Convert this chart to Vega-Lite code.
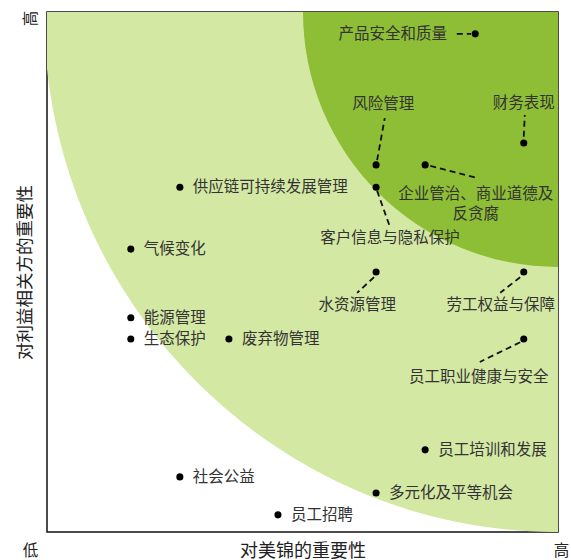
{
  "$schema": "https://vega.github.io/schema/vega-lite/v6.json",
  "width": 511,
  "height": 520,
  "autosize": {"type": "none"},
  "padding": {"left": 47, "top": 12, "right": 13, "bottom": 28},
  "background": "white",
  "config": {
    "view": {"stroke": "#111", "strokeWidth": 1.5},
    "font": "Noto Sans CJK SC",
    "text": {"font": "Noto Sans CJK SC"}
  },
  "datasets": {
    "zone": [{"x": 10, "y": 10}],
    "points": [
      {"name": "产品安全和质量", "x": 8.38, "y": 9.58},
      {"name": "财务表现", "x": 9.33, "y": 7.48},
      {"name": "风险管理", "x": 6.44, "y": 7.06},
      {"name": "企业管治、商业道德及反贪腐", "x": 7.40, "y": 7.06},
      {"name": "供应链可持续发展管理", "x": 2.60, "y": 6.63},
      {"name": "客户信息与隐私保护", "x": 6.44, "y": 6.63},
      {"name": "气候变化", "x": 1.64, "y": 5.44},
      {"name": "水资源管理", "x": 6.44, "y": 5.00},
      {"name": "劳工权益与保障", "x": 9.33, "y": 5.00},
      {"name": "能源管理", "x": 1.64, "y": 4.12},
      {"name": "生态保护", "x": 1.64, "y": 3.71},
      {"name": "废弃物管理", "x": 3.56, "y": 3.71},
      {"name": "员工职业健康与安全", "x": 9.33, "y": 3.71},
      {"name": "员工培训和发展", "x": 7.40, "y": 1.58},
      {"name": "社会公益", "x": 2.60, "y": 1.06},
      {"name": "多元化及平等机会", "x": 6.44, "y": 0.75},
      {"name": "员工招聘", "x": 4.52, "y": 0.33}
    ],
    "side_labels": [
      {"name": "供应链可持续发展管理", "x": 2.60, "y": 6.63},
      {"name": "气候变化", "x": 1.64, "y": 5.44},
      {"name": "能源管理", "x": 1.64, "y": 4.12},
      {"name": "生态保护", "x": 1.64, "y": 3.71},
      {"name": "废弃物管理", "x": 3.56, "y": 3.71},
      {"name": "员工培训和发展", "x": 7.40, "y": 1.58},
      {"name": "社会公益", "x": 2.60, "y": 1.06},
      {"name": "多元化及平等机会", "x": 6.44, "y": 0.75},
      {"name": "员工招聘", "x": 4.52, "y": 0.33}
    ],
    "center_labels": [
      {"name": "风险管理", "x": 6.58, "y": 8.23},
      {"name": "财务表现", "x": 9.33, "y": 8.25},
      {"name": "企业管治、商业道德及\n反贪腐", "x": 8.39, "y": 6.50},
      {"name": "客户信息与隐私保护", "x": 6.71, "y": 5.65},
      {"name": "水资源管理", "x": 6.07, "y": 4.37},
      {"name": "劳工权益与保障", "x": 8.88, "y": 4.37},
      {"name": "员工职业健康与安全", "x": 8.45, "y": 2.98}
    ],
    "right_labels": [
      {"name": "产品安全和质量", "x": 7.83, "y": 9.58}
    ],
    "leaders": [
      {"name": "产品安全和质量", "x": 8.02, "y": 9.58, "x2": 8.30, "y2": 9.58},
      {"name": "风险管理", "x": 6.46, "y": 7.15, "x2": 6.61, "y2": 7.96},
      {"name": "财务表现", "x": 9.33, "y": 7.60, "x2": 9.35, "y2": 8.02},
      {"name": "企业管治、商业道德及反贪腐", "x": 7.50, "y": 7.04, "x2": 8.41, "y2": 6.81},
      {"name": "客户信息与隐私保护", "x": 6.46, "y": 6.56, "x2": 6.71, "y2": 5.87},
      {"name": "水资源管理", "x": 6.40, "y": 4.90, "x2": 6.07, "y2": 4.60},
      {"name": "劳工权益与保障", "x": 9.26, "y": 4.90, "x2": 8.87, "y2": 4.60},
      {"name": "员工职业健康与安全", "x": 9.26, "y": 3.65, "x2": 8.47, "y2": 3.27}
    ]
  },
  "encoding": {
    "x": {
      "field": "x", "type": "quantitative",
      "scale": {"domain": [0, 10], "nice": false, "zero": false},
      "title": "对美锦的重要性",
      "axis": {
        "values": [0, 10],
        "labelExpr": "datum.value == 0 ? '低' : '高'",
        "domain": false, "ticks": false, "tickSize": 0, "grid": false,
        "labelFontSize": 15.5, "labelColor": "#222",
        "labelBaseline": "middle", "labelPadding": 18,
        "labelAlign": "center",
        "labelOffset": {"condition": {"test": "datum.value == 0", "value": -17}, "value": 3},
        "labelFlush": false, "labelOverlap": false,
        "titleFontSize": 18, "titleFontWeight": "normal", "titleColor": "#222",
        "titleBaseline": "middle", "titleY": 19
      }
    },
    "y": {
      "field": "y", "type": "quantitative",
      "scale": {"domain": [0, 10], "nice": false, "zero": false},
      "title": "对利益相关方的重要性",
      "axis": {
        "values": [10],
        "labelExpr": "'高'",
        "domain": false, "ticks": false, "tickSize": 0, "grid": false,
        "labelFontSize": 15.5, "labelColor": "#222",
        "labelAngle": 270, "labelAlign": "center", "labelBaseline": "middle",
        "labelPadding": 17, "labelOffset": 6,
        "labelFlush": false, "labelOverlap": false,
        "titleFontSize": 17.5, "titleFontWeight": "normal", "titleColor": "#222",
        "titleBaseline": "middle", "titleX": -22
      }
    }
  },
  "layer": [
    {
      "data": {"name": "zone"},
      "mark": {"type": "point", "shape": "M -1 0 A 1 1.0117 0 1 1 1 0 A 1 1.0117 0 1 1 -1 0 Z", "filled": true, "opacity": 1, "size": 1056784, "color": "#d3e8a3", "clip": true, "strokeWidth": 0}
    },
    {
      "data": {"name": "zone"},
      "mark": {"type": "point", "shape": "circle", "filled": true, "opacity": 1, "size": 260100, "color": "#8dbe35", "clip": true, "strokeWidth": 0}
    },
    {
      "data": {"name": "leaders"},
      "mark": {"type": "rule", "color": "#111", "strokeWidth": 1.8, "strokeDash": [6, 4]},
      "encoding": {"x2": {"field": "x2"}, "y2": {"field": "y2"}}
    },
    {
      "data": {"name": "points"},
      "mark": {"type": "point", "shape": "circle", "filled": true, "opacity": 1, "size": 50, "color": "#000"}
    },
    {
      "data": {"name": "side_labels"},
      "mark": {"type": "text", "align": "left", "baseline": "middle", "dx": 13, "fontSize": 15.5, "color": "#333"},
      "encoding": {"text": {"field": "name"}}
    },
    {
      "data": {"name": "center_labels"},
      "mark": {"type": "text", "align": "center", "baseline": "middle", "fontSize": 15.5, "color": "#333", "lineBreak": "\n", "lineHeight": 20},
      "encoding": {"text": {"field": "name"}}
    },
    {
      "data": {"name": "right_labels"},
      "mark": {"type": "text", "align": "right", "baseline": "middle", "fontSize": 15.5, "color": "#333"},
      "encoding": {"text": {"field": "name"}}
    }
  ]
}
